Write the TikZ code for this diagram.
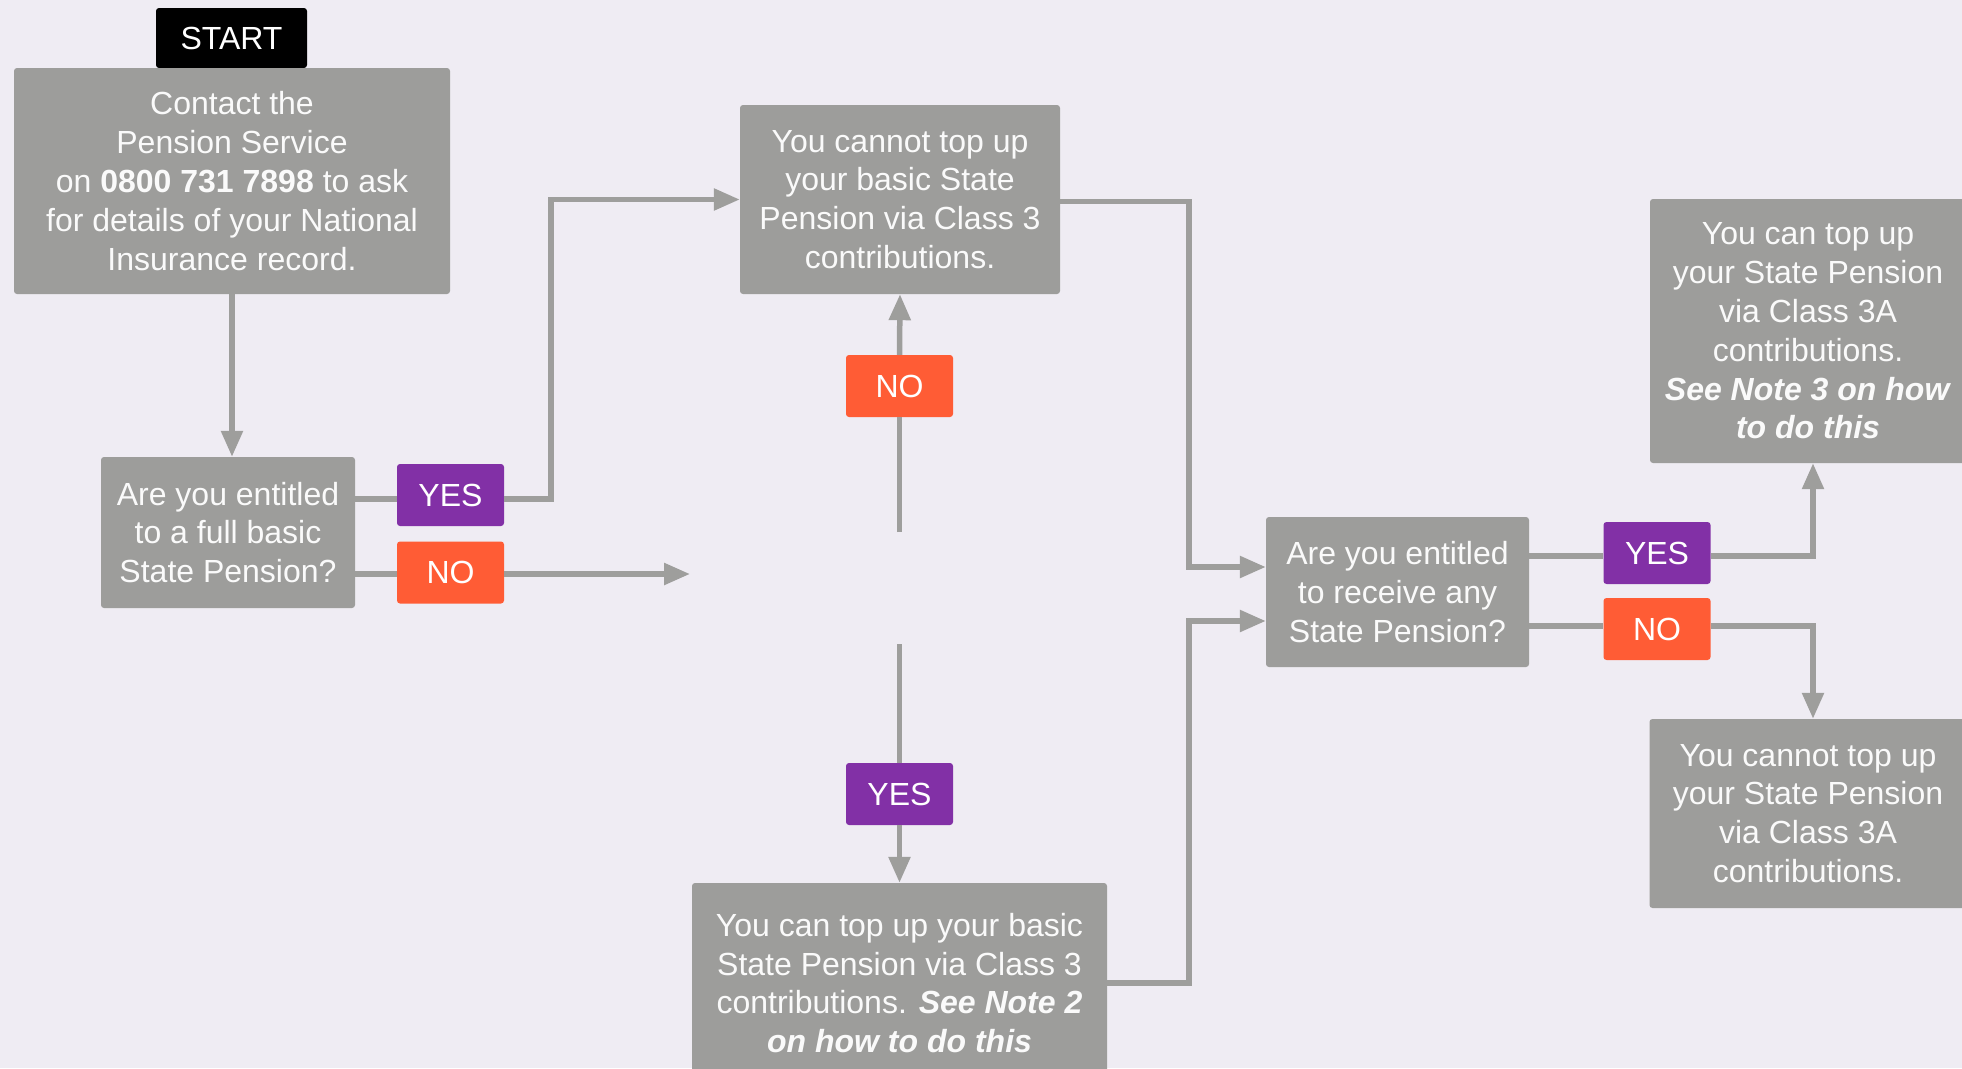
\documentclass[tikz,border=0pt]{standalone}
\usepackage{fontspec}
\setmainfont{Liberation Sans}
\usetikzlibrary{arrows.meta,calc}
\definecolor{bg}{HTML}{EFECF3}
\definecolor{boxgray}{HTML}{9D9D9B}
\definecolor{linegray}{HTML}{9E9E9C}
\definecolor{yespurple}{HTML}{8230A6}
\definecolor{noorange}{HTML}{FF5C35}
\definecolor{txt}{HTML}{FAFAFA}
\tikzset{
  basefont/.style={font=\fontsize{32}{38.8}\selectfont},
  graybox/.style={basefont, rectangle, rounded corners=3pt, fill=boxgray, text=txt, align=center, inner sep=0pt},
  yesbox/.style={basefont, rectangle, rounded corners=3pt, fill=yespurple, text=white, minimum width=107pt, minimum height=62pt, inner sep=0pt},
  nobox/.style={basefont, rectangle, rounded corners=3pt, fill=noorange, text=white, minimum width=107pt, minimum height=62pt, inner sep=0pt},
  startbox/.style={basefont, rectangle, rounded corners=3pt, fill=black, text=white, minimum width=151pt, minimum height=60pt, inner sep=0pt},
  conn/.style={draw=linegray, line width=5.5pt},
  arr/.style={conn, -{Triangle[length=26pt,width=21pt]}}
}
\begin{document}
\begin{tikzpicture}[x=1pt,y=-1pt]
\fill[bg] (0,0) rectangle (1962,1068);
\useasboundingbox (0,0) rectangle (1962,1068);

% nodes
\node[startbox] (start) at (231.5,38) {START};
\node[graybox, minimum width=436pt, minimum height=226pt] (contact) at (232,181)
  {Contact the\\Pension Service\\on \textbf{0800 731 7898} to ask\\for details of your National\\Insurance record.};
\node[graybox, minimum width=254pt, minimum height=151pt] (q1) at (228,532.5)
  {Are you entitled\\to a full basic\\State Pension?};
\node[yesbox] (yes1) at (450.5,495) {YES};
\node[nobox] (no1) at (450.5,572.5) {NO};

\node[graybox, minimum width=320pt, minimum height=189pt] (box2) at (900,199.5)
  {You cannot top up\\your basic State\\Pension via Class 3\\contributions.};
\node[nobox] (no2) at (899.5,386) {NO};
\node[yesbox] (yes2) at (899.5,794) {YES};
\node[graybox, minimum width=415pt, minimum height=200pt] (box3) at (899.5,983)
  {You can top up your basic\\State Pension via Class 3\\contributions. \textbf{\textit{See Note 2}}\\\textbf{\textit{on how to do this}}};

\node[graybox, minimum width=263pt, minimum height=150pt] (q2) at (1397.5,592)
  {Are you entitled\\to receive any\\State Pension?};
\node[yesbox] (yes3) at (1657,553) {YES};
\node[nobox] (no3) at (1657,629) {NO};

\node[graybox, minimum width=316pt, minimum height=264pt] (box4) at (1808,331)
  {You can top up\\your State Pension\\via Class 3A\\contributions.\\\textbf{\textit{See Note 3 on how}}\\\textbf{\textit{to do this}}};
\node[graybox, minimum width=317pt, minimum height=189pt] (box5) at (1808,813.5)
  {You cannot top up\\your State Pension\\via Class 3A\\contributions.};

% free ends
\coordinate (gapL) at (690,574);
\coordinate (gapT) at (899.5,532);
\coordinate (gapB) at (899.5,644);

% connectors
\draw[arr] (contact.south) -- (contact.south |- q1.north);
\draw[conn] ($(q1.east |- yes1)+(0,4)$) -- ($(yes1.west)+(0,4)$);
\draw[arr] ($(yes1.east)+(0,4)$) -- ++(47,0) |- (box2.west);
\draw[conn] ($(q1.east |- no1)+(0,1.5)$) -- ($(no1.west)+(0,1.5)$);
\draw[arr] ($(no1.east)+(0,1.5)$) -- (gapL);

\draw[conn] (gapT) -- (no2.south);
\draw[arr] (no2.north) -- (box2.south);
\draw[conn] (gapB) -- (yes2.north);
\draw[arr] (yes2.south) -- (box3.north);

\draw[arr] ($(box2.east)+(0,2)$) -- ++(129,0) |- ($(q2.west)+(0,-25)$);
\draw[arr] (box3.east) -- ++(82,0) |- ($(q2.west)+(0,29)$);

\draw[conn] ($(q2.east |- yes3)+(0,3)$) -- ($(yes3.west)+(0,3)$);
\draw[arr] ($(yes3.east)+(0,3)$) -| ($(box4.south)+(5,0)$);
\draw[conn] ($(q2.east |- no3)+(0,-3)$) -- ($(no3.west)+(0,-3)$);
\draw[arr] ($(no3.east)+(0,-3)$) -| ($(box5.north)+(5,0)$);
\end{tikzpicture}
\end{document}
